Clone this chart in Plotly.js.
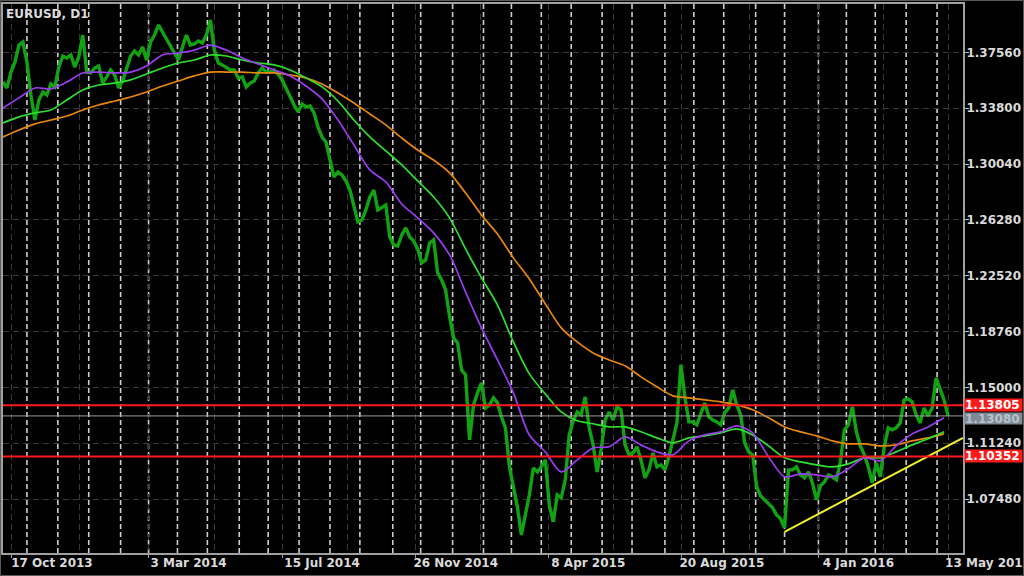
<!DOCTYPE html>
<html>
<head>
<meta charset="utf-8">
<script src="https://cdn.plot.ly/plotly-3.0.1.min.js"></script>
<style>
  html, body { margin: 0; padding: 0; background: #000; }
  #chart { width: 1024px; height: 576px; }
</style>
</head>
<body>
<div id="chart"></div>
<script>
// ---------- data ----------
const symbolTitle = 'EURUSD, D1';

// daily close, sampled every 4 calendar days from priceStart
const priceStart = '2013-10-08';
const priceStepDays = 4;
const closes = [
  1.3556,1.3516,1.3623,1.3691,1.3805,1.3825,1.3691,1.3469,1.3300,1.3435,
  1.3489,1.3469,1.3543,1.3523,1.3657,1.3731,1.3718,1.3738,1.3657,1.3724,
  1.3872,1.3623,1.3617,1.3650,1.3664,1.3549,1.3590,1.3637,1.3603,1.3516,
  1.3563,1.3657,1.3731,1.3765,1.3738,1.3792,1.3704,1.3825,1.3872,1.3940,
  1.3893,1.3852,1.3805,1.3751,1.3704,1.3792,1.3872,1.3805,1.3812,1.3832,
  1.3819,1.3872,1.3973,1.3771,1.3684,1.3671,1.3657,1.3637,1.3637,1.3583,
  1.3590,1.3523,1.3549,1.3563,1.3617,1.3650,1.3623,1.3623,1.3637,1.3610,
  1.3570,1.3509,1.3455,1.3401,1.3354,1.3408,1.3388,1.3395,1.3348,1.3253,
  1.3186,1.3152,1.3031,1.2917,1.2950,1.2930,1.2890,1.2829,1.2722,1.2614,
  1.2627,1.2695,1.2782,1.2829,1.2695,1.2715,1.2728,1.2513,1.2459,1.2452,
  1.2526,1.2574,1.2513,1.2486,1.2432,1.2338,1.2358,1.2473,1.2493,1.2271,
  1.2224,1.2156,1.1975,1.1833,1.1800,1.1618,1.1584,1.1147,1.1382,1.1463,
  1.1530,1.1362,1.1382,1.1430,1.1396,1.1302,1.1228,1.0965,1.0831,1.0696,
  1.0507,1.0656,1.0777,1.0958,1.0931,1.0965,1.1012,1.0709,1.0595,1.0777,
  1.0757,1.0878,1.1180,1.1275,1.1335,1.1315,1.1436,1.1228,1.1113,1.0931,
  1.1080,1.1281,1.1335,1.1281,1.1369,1.1349,1.1113,1.1046,1.1059,1.1100,
  1.1012,1.0891,1.0945,1.1059,1.0965,1.0979,1.0945,1.1032,1.1147,1.1261,
  1.1652,1.1436,1.1268,1.1268,1.1248,1.1315,1.1396,1.1302,1.1281,1.1268,
  1.1248,1.1329,1.1362,1.1483,1.1382,1.1315,1.1127,1.1066,1.1046,1.0831,
  1.0770,1.0743,1.0716,1.0689,1.0642,1.0615,1.0555,1.0945,1.0945,1.0965,
  1.0911,1.0891,1.0931,1.0857,1.0743,1.0837,1.0864,1.0911,1.0898,1.0878,
  1.0999,1.1214,1.1248,1.1369,1.1201,1.1106,1.1046,1.0965,1.0857,1.0992,
  1.0898,1.1100,1.1228,1.1214,1.1228,1.1261,1.1416,1.1423,1.1403,1.1315,
  1.1261,1.1362,1.1308,1.1362,1.1564,1.1483,1.1416,1.1308
];

// moving averages, sampled every 16 calendar days from maStart
const maStart = '2013-10-08';
const maStepDays = 16;
const maPurple = [
  1.3381,1.3449,1.3516,1.3509,1.3556,1.3617,1.3623,1.3617,1.3623,1.3664,
  1.3738,1.3751,1.3771,1.3805,1.3771,1.3718,1.3677,1.3637,1.3597,1.3529,
  1.3442,1.3300,1.3132,1.2964,1.2883,1.2735,1.2641,1.2540,1.2392,1.2143,
  1.1901,1.1685,1.1463,1.1180,1.1066,1.0931,1.1012,1.1093,1.1100,1.1167,
  1.1113,1.1066,1.1046,1.1140,1.1180,1.1201,1.1241,1.1194,1.1032,1.0898,
  1.0918,1.0911,1.0898,1.0952,1.1026,1.1006,1.1106,1.1187,1.1234,1.1295
];
const maGreen = [
  1.3280,1.3321,1.3348,1.3368,1.3435,1.3502,1.3536,1.3549,1.3570,1.3610,
  1.3650,1.3684,1.3704,1.3738,1.3731,1.3704,1.3684,1.3671,1.3637,1.3583,
  1.3523,1.3428,1.3300,1.3186,1.3092,1.2998,1.2890,1.2782,1.2641,1.2432,
  1.2237,1.2055,1.1806,1.1591,1.1456,1.1335,1.1275,1.1255,1.1234,1.1234,
  1.1201,1.1160,1.1127,1.1160,1.1174,1.1194,1.1221,1.1180,1.1106,1.1026,
  1.0999,1.0979,1.0965,1.0985,1.1026,1.1026,1.1066,1.1113,1.1154,1.1201
];
const maOrange = [
  1.3186,1.3233,1.3274,1.3300,1.3327,1.3368,1.3401,1.3428,1.3455,1.3489,
  1.3529,1.3563,1.3597,1.3623,1.3623,1.3623,1.3617,1.3617,1.3603,1.3583,
  1.3543,1.3482,1.3415,1.3341,1.3267,1.3179,1.3098,1.3031,1.2944,1.2809,
  1.2661,1.2533,1.2372,1.2230,1.2062,1.1901,1.1806,1.1732,1.1685,1.1645,
  1.1571,1.1504,1.1443,1.1430,1.1416,1.1403,1.1382,1.1349,1.1295,1.1234,
  1.1201,1.1174,1.1140,1.1120,1.1120,1.1106,1.1113,1.1140,1.1160,1.1187
];

// trend line (yellow)
const trendDates = ['2015-12-01', '2016-05-28'];
const trendPrices = [1.0528, 1.1160];

// horizontal levels
const resistanceLevels = [1.13805, 1.10352];
const bidPrice = 1.13080;

// axes
const xRange = ['2013-10-08', '2016-05-28'];
const yRange = [1.03851, 1.40812];
const yTicks = [1.07480, 1.11240, 1.15000, 1.18760, 1.22520, 1.26280, 1.30040, 1.33800, 1.37560];
const xLabelDates = ['2013-10-17','2014-03-03','2014-07-15','2014-11-26','2015-04-08','2015-08-20','2016-01-04','2016-05-13'];
const xLabelTexts = ['17 Oct 2013','3 Mar 2014','15 Jul 2014','26 Nov 2014','8 Apr 2015','20 Aug 2015','4 Jan 2016','13 May 2016'];
const xMidGridDates = ['2013-12-24','2014-05-08','2014-09-19','2015-01-30','2015-06-12','2015-10-27','2016-03-09'];
const monthSeparators = [
  '2013-11-01','2013-12-02','2014-01-02','2014-02-03','2014-03-03','2014-04-01','2014-05-01','2014-06-02',
  '2014-07-01','2014-08-01','2014-09-01','2014-10-01','2014-11-03','2014-12-01','2015-01-02','2015-02-02',
  '2015-03-02','2015-04-01','2015-05-01','2015-06-01','2015-07-01','2015-08-03','2015-09-01','2015-10-01',
  '2015-11-02','2015-12-01','2016-01-04','2016-02-01','2016-03-01','2016-04-01','2016-05-02'
];

// ---------- build ----------
function dateSeries(start, stepDays, n) {
  const t0 = Date.parse(start + 'T00:00:00Z');
  const out = [];
  for (let i = 0; i < n; i++) out.push(new Date(t0 + i * stepDays * 86400000).toISOString().slice(0, 10));
  return out;
}
const priceDates = dateSeries(priceStart, priceStepDays, closes.length);
const maDates = dateSeries(maStart, maStepDays, maPurple.length);

const FONT = 'DejaVu Sans, Verdana, sans-serif';
const textColor = '#dadada';

const traces = [
  { x: priceDates, y: closes, type: 'scatter', mode: 'lines',
    line: { color: '#12a312', width: 3.4 }, hoverinfo: 'skip' },
  { x: maDates, y: maOrange, type: 'scatter', mode: 'lines',
    line: { color: '#e8870c', width: 1.7, shape: 'spline', smoothing: 0.8 }, hoverinfo: 'skip' },
  { x: maDates, y: maGreen, type: 'scatter', mode: 'lines',
    line: { color: '#2ee02e', width: 1.7, shape: 'spline', smoothing: 0.8 }, hoverinfo: 'skip' },
  { x: maDates, y: maPurple, type: 'scatter', mode: 'lines',
    line: { color: '#9b3cf0', width: 1.7, shape: 'spline', smoothing: 0.8 }, hoverinfo: 'skip' },
  { x: trendDates, y: trendPrices, type: 'scatter', mode: 'lines',
    line: { color: '#f2f22a', width: 2 }, hoverinfo: 'skip' }
];

const shapes = [];
monthSeparators.forEach(d => shapes.push({
  type: 'line', xref: 'x', yref: 'paper', x0: d, x1: d, y0: 0, y1: 1,
  line: { color: '#cdcdcd', width: 1.6, dash: '5px,3px' }, layer: 'below'
}));
resistanceLevels.forEach(v => shapes.push({
  type: 'line', xref: 'paper', yref: 'y', x0: 0, x1: 1, y0: v, y1: v,
  line: { color: '#ff1a1a', width: 2 }, layer: 'above'
}));
shapes.push({
  type: 'line', xref: 'paper', yref: 'y', x0: 0, x1: 1, y0: bidPrice, y1: bidPrice,
  line: { color: '#9a9a9a', width: 1 }, layer: 'above'
});
// outer window frame
shapes.push({
  type: 'rect', xref: 'paper', yref: 'paper',
  x0: -2.5 / 960, x1: 1020.5 / 960, y0: -22.5 / 549, y1: 1 + 3.5 / 549,
  line: { color: '#5a5a5a', width: 1 }, fillcolor: 'rgba(0,0,0,0)', layer: 'above'
});

const annotations = [];
resistanceLevels.forEach(v => annotations.push({
  xref: 'paper', yref: 'y', x: 1, y: v, xanchor: 'left', yanchor: 'middle', xshift: 1,
  text: v.toFixed(5), showarrow: false, bgcolor: '#ff1a1a', width: 57, height: 12, align: 'left',
  borderpad: 0, font: { family: FONT, size: 12, color: '#ffffff', weight: 'bold' }
}));
annotations.push({
  xref: 'paper', yref: 'y', x: 1, y: bidPrice, xanchor: 'left', yanchor: 'middle', xshift: 1, yshift: -2.5,
  text: bidPrice.toFixed(5), showarrow: false, bgcolor: '#7d8995', width: 57, height: 11, align: 'left',
  borderpad: 0, font: { family: FONT, size: 12, color: '#b8c2cb', weight: 'bold' }
});

const layout = {
  width: 1024, height: 576,
  paper_bgcolor: '#000000', plot_bgcolor: '#000000',
  margin: { l: 3, r: 61, t: 4, b: 23, pad: 0 },
  showlegend: false,
  title: { text: symbolTitle, xref: 'container', yref: 'container', x: 6 / 1024, xanchor: 'left',
           y: 1 - 14 / 576, yanchor: 'middle',
           font: { family: FONT, size: 12, color: textColor, weight: 'bold' } },
  xaxis: {
    type: 'date', range: xRange, fixedrange: true,
    tickmode: 'array', tickvals: xLabelDates, ticktext: xLabelTexts,
    ticks: 'outside', ticklen: 3, tickcolor: '#9a9a9a', tickwidth: 1,
    ticklabelshift: 40, ticklabelstandoff: -5, ticklabeloverflow: 'allow',
    tickfont: { family: FONT, size: 12, color: textColor, weight: 'bold' },
    showgrid: true, gridcolor: '#3a3a3a', griddash: '6px,4px', gridwidth: 1,
    minor: { tickmode: 'array', tickvals: xMidGridDates, showgrid: true, gridcolor: '#3a3a3a',
             griddash: '6px,4px', ticks: '' },
    showline: true, linecolor: '#a0a0a0', linewidth: 2, mirror: true, zeroline: false
  },
  yaxis: {
    side: 'right', range: yRange, fixedrange: true,
    tickmode: 'array', tickvals: yTicks, tickformat: '.5f',
    ticks: 'outside', ticklen: 4, tickcolor: '#bdbdbd', tickwidth: 1,
    ticklabelstandoff: -5, ticklabeloverflow: 'allow',
    tickfont: { family: FONT, size: 12, color: textColor, weight: 'bold' },
    showgrid: true, gridcolor: '#3a3a3a', griddash: '6px,4px', gridwidth: 1,
    showline: true, linecolor: '#a0a0a0', linewidth: 2, mirror: true, zeroline: false
  },
  shapes: shapes,
  annotations: annotations
};

Plotly.newPlot('chart', traces, layout, { staticPlot: true, displayModeBar: false });
</script>
</body>
</html>
